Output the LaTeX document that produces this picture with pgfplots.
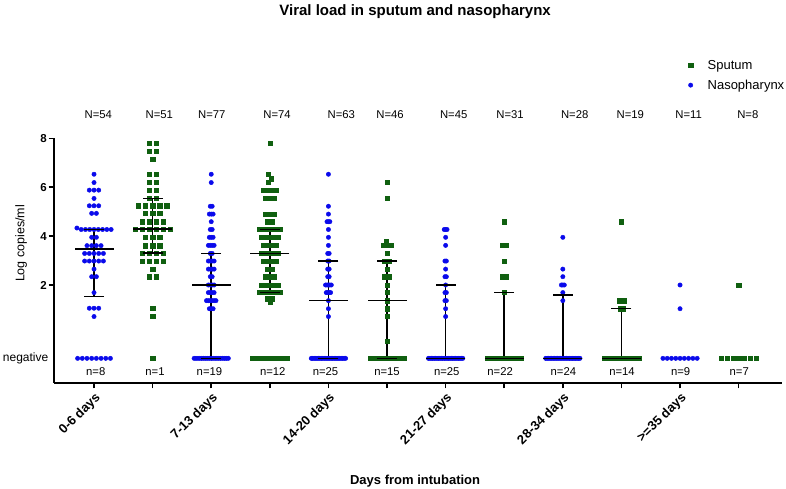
\documentclass[border=0pt]{standalone}
\usepackage{fontspec}
\setmainfont{Liberation Sans}
\usepackage{pgfplots}
\pgfplotsset{compat=1.18}
\definecolor{naso}{RGB}{10,10,235}
\definecolor{sput}{RGB}{16,96,16}
\begin{document}
\begin{tikzpicture}
\path[use as bounding box] (0,0) rectangle (786pt,489pt);
\begin{axis}[
  at={(54pt,106.2pt)}, anchor=south west,
  scale only axis, width=728pt, height=244.5pt,
  xmin=0.317, xmax=12.74, ymin=-2, ymax=8,
  axis x line*=bottom, axis y line*=left,
  axis line style={line width=1.5pt, black},
  tick pos=left, tick align=outside,
  major tick length=5.5pt,
  every tick/.style={black, line width=1.5pt},
  xtick={1,3,5,7,9,11},
  xticklabels={0-6 days,7-13 days,14-20 days,21-27 days,28-34 days,>=35 days},
  extra x ticks={2,4,6,8,10,12},
  extra x tick style={xticklabel=\empty},
  xticklabel style={rotate=45, anchor=north east, font=\bfseries\fontsize{13}{15}\selectfont, inner sep=2pt},
  ytick={2,4,6,8},
  yticklabel style={font=\bfseries\fontsize{11.5}{13}\selectfont, inner sep=1.5pt},
  extra y ticks={-1}, extra y tick labels={negative},
  extra y tick style={major tick length=0pt, yticklabel style={font=\mdseries\fontsize{12}{14}\selectfont, xshift=-4pt}},
  /pgf/number format/assume math mode=true,
  xlabel={\bfseries\fontsize{13}{15}\selectfont Days from intubation},
  xlabel style={at={(axis description cs:0.496,-0.403)}, anchor=center},
  ylabel={\fontsize{12.5}{14}\selectfont Log copies/ml},
  ylabel style={at={(axis description cs:-0.045,0.57)}, anchor=center},
  every axis title shift=0pt,
  title={\bfseries\fontsize{15}{17}\selectfont Viral load in sputum and nasopharynx},
  title style={at={(axis description cs:0.496,1.52)}, anchor=center},
  legend style={draw=none, fill=none, at={(axis description cs:0.866,1.337)}, anchor=north west, font=\fontsize{13}{15}\selectfont, row sep=5pt},
  legend cell align=left,
  legend image code/.code={\path[draw=none] (-3pt,0pt) -- (15pt,0pt); \draw[#1] plot coordinates {(0pt,0pt)};},
  clip=false,
]
% Sputum
\addplot[only marks, mark=square*, mark size=2.1pt, color=sput] coordinates {
(1.940,7.81) (2.060,7.81) (1.940,7.48) (2.060,7.48) (2.000,7.16)
(1.940,6.53) (2.060,6.53) (1.940,6.19) (2.060,6.19) (1.940,5.88) (2.060,5.88)
(1.940,5.54) (2.060,5.54)
(1.760,5.24) (1.880,5.24) (2.000,5.24) (2.120,5.24) (2.240,5.24)
(1.880,4.93) (2.000,4.93) (2.120,4.93)
(1.820,4.59) (1.940,4.59) (2.060,4.59) (2.180,4.59)
(1.700,4.27) (1.820,4.27) (1.940,4.27) (2.060,4.27) (2.180,4.27) (2.300,4.27)
(1.880,3.95) (2.000,3.95) (2.120,3.95)
(1.880,3.61) (2.000,3.61) (2.120,3.61)
(1.820,3.29) (1.940,3.29) (2.060,3.29) (2.180,3.29)
(1.820,2.98) (1.940,2.98) (2.060,2.98) (2.180,2.98)
(2.000,2.65) (1.940,2.34) (2.060,2.34)
(2.000,1.05) (2.000,0.71) (2.000,-1)
(4.000,7.81) (3.970,6.53) (4.030,6.35) (3.970,6.19)
(3.891,5.88) (3.964,5.88) (4.037,5.88) (4.110,5.88)
(3.927,5.54) (4.000,5.54) (4.073,5.54)
(3.927,4.90) (4.000,4.90) (4.073,4.90)
(3.964,4.59) (4.037,4.59)
(3.818,4.27) (3.891,4.27) (3.964,4.27) (4.037,4.27) (4.110,4.27) (4.183,4.27)
(3.854,3.95) (3.927,3.95) (4.000,3.95) (4.073,3.95) (4.146,3.95)
(3.891,3.62) (3.964,3.62) (4.037,3.62) (4.110,3.62)
(3.854,3.29) (3.927,3.29) (4.000,3.29) (4.073,3.29) (4.146,3.29)
(3.891,2.98) (3.964,2.98) (4.037,2.98) (4.110,2.98)
(3.964,2.65) (4.037,2.65)
(3.927,2.34) (4.000,2.34) (4.073,2.34)
(3.854,2.00) (3.927,2.00) (4.000,2.00) (4.073,2.00) (4.146,2.00)
(3.818,1.69) (3.891,1.69) (3.964,1.69) (4.037,1.69) (4.110,1.69) (4.183,1.69)
(3.964,1.44) (4.037,1.44) (4.000,1.30)
(3.709,-1) (3.762,-1) (3.815,-1) (3.868,-1) (3.921,-1) (3.974,-1) (4.027,-1) (4.080,-1) (4.133,-1) (4.186,-1) (4.239,-1) (4.292,-1)
(6.000,6.19) (6.000,5.54) (5.980,3.78)
(5.937,3.62) (5.979,3.62) (6.021,3.62) (6.063,3.62)
(6.000,3.29) (5.958,2.98) (6.000,2.98) (6.042,2.98)
(6.000,2.65) (5.958,2.34) (6.000,2.34) (6.042,2.34)
(6.000,2.00) (6.000,1.69) (6.000,1.36) (6.000,1.03) (6.000,0.71) (6.000,-0.31)
(5.706,-1) (5.748,-1) (5.790,-1) (5.832,-1) (5.874,-1) (5.916,-1) (5.958,-1) (6.000,-1) (6.042,-1) (6.084,-1) (6.126,-1) (6.168,-1) (6.210,-1) (6.252,-1) (6.294,-1)
(8.000,4.59) (7.972,3.62) (8.000,3.62) (8.028,3.62)
(8.000,2.98) (7.972,2.34) (8.000,2.34) (8.028,2.34) (8.000,1.69)
(7.708,-1) (7.735,-1) (7.763,-1) (7.791,-1) (7.819,-1) (7.847,-1) (7.875,-1) (7.903,-1) (7.930,-1) (7.958,-1) (7.986,-1)
(8.014,-1) (8.042,-1) (8.070,-1) (8.097,-1) (8.125,-1) (8.153,-1) (8.181,-1) (8.209,-1) (8.237,-1) (8.265,-1) (8.292,-1)
(10.000,4.59) (9.955,1.36) (10.000,1.36) (10.045,1.36) (9.978,1.03) (10.023,1.03)
(9.708,-1) (9.753,-1) (9.798,-1) (9.843,-1) (9.888,-1) (9.933,-1) (9.978,-1) (10.023,-1) (10.068,-1) (10.113,-1) (10.158,-1) (10.203,-1) (10.248,-1) (10.293,-1)
(12.000,2.00)
(11.708,-1) (11.805,-1) (11.903,-1) (12.000,-1) (12.098,-1) (12.195,-1) (12.293,-1)
};
\addlegendentry{Sputum}
% Nasopharynx
\addplot[only marks, mark=*, mark size=2.2pt, color=naso] coordinates {
(1.000,6.53) (1.000,6.19) (0.920,5.88) (1.000,5.88) (1.080,5.88) (1.000,5.54)
(0.920,5.24) (1.000,5.24) (1.080,5.24) (0.960,4.93) (1.040,4.93)
(0.708,4.33) (0.781,4.27) (0.854,4.27) (0.927,4.27) (1.000,4.27) (1.073,4.27) (1.146,4.27) (1.219,4.27) (1.292,4.27)
(0.960,3.95) (1.040,3.95)
(0.880,3.61) (0.960,3.61) (1.040,3.61) (1.120,3.61)
(0.840,3.29) (0.920,3.29) (1.000,3.29) (1.080,3.29) (1.160,3.29)
(0.840,2.98) (0.920,2.98) (1.000,2.98) (1.080,2.98) (1.160,2.98)
(1.000,2.65) (0.960,2.34) (1.040,2.34) (1.000,1.69)
(0.920,1.05) (1.000,1.05) (1.080,1.05) (1.000,0.71)
(0.720,-1) (0.800,-1) (0.880,-1) (0.960,-1) (1.040,-1) (1.120,-1) (1.200,-1) (1.280,-1)
(3.000,6.53) (3.000,6.19) (2.984,5.22) (3.016,5.22)
(2.968,4.90) (3.000,4.90) (3.032,4.90) (3.000,4.59) (2.984,4.27) (3.016,4.27)
(2.968,3.95) (3.000,3.95) (3.032,3.95)
(2.951,3.62) (2.984,3.62) (3.016,3.62) (3.049,3.62)
(2.984,3.29) (3.016,3.29)
(2.951,2.98) (2.984,2.98) (3.016,2.98) (3.049,2.98)
(2.951,2.65) (2.984,2.65) (3.016,2.65) (3.049,2.65)
(2.984,2.34) (3.016,2.34)
(2.951,2.00) (2.984,2.00) (3.016,2.00) (3.049,2.00)
(2.951,1.69) (2.984,1.69) (3.016,1.69) (3.049,1.69)
(2.919,1.36) (2.951,1.36) (2.984,1.36) (3.016,1.36) (3.049,1.36) (3.081,1.36)
(2.968,1.03) (3.000,1.03) (3.032,1.03)
(2.708,-1) (2.740,-1) (2.773,-1) (2.805,-1) (2.838,-1) (2.870,-1) (2.903,-1) (2.935,-1) (2.968,-1) (3.000,-1)
(3.032,-1) (3.065,-1) (3.097,-1) (3.130,-1) (3.162,-1) (3.195,-1) (3.227,-1) (3.260,-1) (3.292,-1)
(5.000,6.53) (5.000,5.22) (5.000,4.90) (4.976,4.59) (5.000,4.59) (5.024,4.59)
(5.000,4.27) (5.000,3.95) (5.000,3.62) (4.988,3.29) (5.012,3.29)
(4.988,2.98) (5.012,2.98) (4.988,2.65) (5.012,2.65) (4.988,2.34) (5.012,2.34)
(4.951,2.00) (4.976,2.00) (5.000,2.00) (5.024,2.00) (5.049,2.00)
(4.963,1.69) (4.988,1.69) (5.012,1.69) (5.037,1.69)
(5.000,1.36) (5.000,1.03) (5.000,0.71)
(4.707,-1) (4.732,-1) (4.756,-1) (4.780,-1) (4.805,-1) (4.829,-1) (4.854,-1) (4.878,-1) (4.902,-1) (4.927,-1) (4.951,-1) (4.976,-1) (5.000,-1)
(5.024,-1) (5.049,-1) (5.073,-1) (5.098,-1) (5.122,-1) (5.146,-1) (5.171,-1) (5.195,-1) (5.220,-1) (5.244,-1) (5.268,-1) (5.293,-1)
(6.976,4.27) (7.000,4.27) (7.024,4.27) (7.000,3.95) (7.000,3.62)
(6.988,2.98) (7.012,2.98) (7.000,2.65) (6.988,2.34) (7.012,2.34) (7.000,2.00)
(6.988,1.69) (7.012,1.69) (6.988,1.36) (7.012,1.36) (7.000,1.03) (7.000,0.71)
(6.707,-1) (6.732,-1) (6.756,-1) (6.780,-1) (6.805,-1) (6.829,-1) (6.854,-1) (6.878,-1) (6.902,-1) (6.927,-1) (6.951,-1) (6.976,-1) (7.000,-1)
(7.024,-1) (7.049,-1) (7.073,-1) (7.098,-1) (7.122,-1) (7.146,-1) (7.171,-1) (7.195,-1) (7.220,-1) (7.244,-1) (7.268,-1) (7.293,-1)
(9.000,3.95) (9.000,2.65) (9.000,2.34) (8.975,2.00) (9.000,2.00) (9.025,2.00) (9.000,1.69) (9.000,1.36)
(8.708,-1) (8.733,-1) (8.758,-1) (8.784,-1) (8.809,-1) (8.835,-1) (8.860,-1) (8.886,-1) (8.911,-1) (8.936,-1) (8.962,-1) (8.987,-1)
(9.013,-1) (9.038,-1) (9.064,-1) (9.089,-1) (9.114,-1) (9.140,-1) (9.165,-1) (9.191,-1) (9.216,-1) (9.242,-1) (9.267,-1) (9.292,-1)
(11.000,2.00) (11.000,1.03)
(10.708,-1) (10.781,-1) (10.854,-1) (10.927,-1) (11.000,-1) (11.073,-1) (11.146,-1) (11.219,-1) (11.292,-1)
};
\addlegendentry{Nasopharynx}
% interquartile range: vertical lines
\addplot[black, line width=1.5pt, unbounded coords=jump, forget plot] coordinates {
(1,1.52) (1,4.27) (1,nan) (2,3.30) (2,5.54) (2,nan) (3,-1) (3,3.29) (3,nan)
(4,1.69) (4,4.27) (4,nan) (5,-1) (5,2.98) (5,nan) (6,-1) (6,2.98) (6,nan)
(7,-1) (7,2.00) (7,nan) (8,-1) (8,1.69) (8,nan) (9,-1) (9,1.60) (9,nan) (10,-1) (10,1.03)
};
% quartile caps
\addplot[only marks, mark=-, mark size=10pt, mark options={black, line width=1.5pt}, forget plot] coordinates {
(1,1.52) (1,4.27) (2,3.30) (2,5.54) (3,-1) (3,3.29) (4,1.69) (4,4.27) (5,-1) (5,2.98)
(6,-1) (6,2.98) (7,-1) (7,2.00) (8,-1) (8,1.69) (9,-1) (9,1.60) (10,-1) (10,1.03)
};
% medians
\addplot[only marks, mark=-, mark size=19.5pt, mark options={black, line width=1.5pt}, forget plot] coordinates {
(1,3.47) (2,4.30) (3,2.00) (4,3.29) (5,1.36) (6,1.36) (7,-1) (8,-1) (9,-1) (10,-1)
};
% group sizes
\begin{scope}[every node/.style={font=\fontsize{11.3}{13}\selectfont}]
\node at (axis cs:1.073,8.97) {N=54};
\node at (axis cs:2.114,8.97) {N=51};
\node at (axis cs:3.009,8.97) {N=77};
\node at (axis cs:4.123,8.97) {N=74};
\node at (axis cs:5.220,8.97) {N=63};
\node at (axis cs:6.051,8.97) {N=46};
\node at (axis cs:7.138,8.97) {N=45};
\node at (axis cs:8.099,8.97) {N=31};
\node at (axis cs:9.203,8.97) {N=28};
\node at (axis cs:10.152,8.97) {N=19};
\node at (axis cs:11.148,8.97) {N=11};
\node at (axis cs:12.157,8.97) {N=8};
\node at (axis cs:1.03,-1.56) {n=8};
\node at (axis cs:2.04,-1.56) {n=1};
\node at (axis cs:2.97,-1.56) {n=19};
\node at (axis cs:4.05,-1.56) {n=12};
\node at (axis cs:4.95,-1.56) {n=25};
\node at (axis cs:6.00,-1.56) {n=15};
\node at (axis cs:7.02,-1.56) {n=25};
\node at (axis cs:7.93,-1.56) {n=22};
\node at (axis cs:9.01,-1.56) {n=24};
\node at (axis cs:10.01,-1.56) {n=14};
\node at (axis cs:11.01,-1.56) {n=9};
\node at (axis cs:12.01,-1.56) {n=7};
\end{scope}
\end{axis}
\end{tikzpicture}
\end{document}
